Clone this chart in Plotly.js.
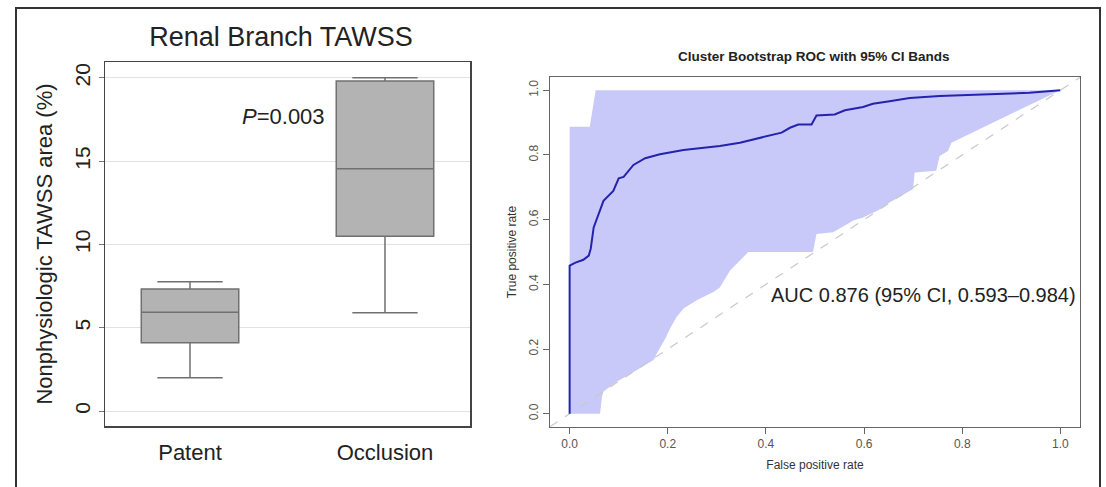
<!DOCTYPE html>
<html>
<head>
<meta charset="utf-8">
<script src="https://cdn.plot.ly/plotly-3.0.1.min.js"></script>
<style>
  html, body { margin: 0; padding: 0; background: #ffffff; }
  #chart { width: 1106px; height: 487px; }
</style>
</head>
<body>
<div id="chart"></div>
<script>
// ---------- Left panel: box plot data ----------
const categories = ['Patent', 'Occlusion'];
const lowerWhisker = [2.0, 5.9];
const q1 = [4.1, 10.5];
const median = [5.93, 14.55];
const q3 = [7.33, 19.82];
const upperWhisker = [7.77, 20.02];
const boxTicks = [0, 5, 10, 15, 20];

// ---------- Right panel: ROC data ----------
const rocFpr = [0, 0, 0.012, 0.028, 0.039, 0.043, 0.049, 0.069, 0.089, 0.1, 0.11, 0.13, 0.154, 0.184, 0.232, 0.273, 0.306, 0.347, 0.388, 0.432, 0.449, 0.466, 0.493, 0.503, 0.54, 0.561, 0.598, 0.618, 0.652, 0.693, 0.754, 0.856, 0.937, 1];
const rocTpr = [0, 0.458, 0.467, 0.476, 0.489, 0.51, 0.576, 0.658, 0.689, 0.728, 0.732, 0.769, 0.79, 0.802, 0.815, 0.822, 0.828, 0.838, 0.853, 0.869, 0.884, 0.894, 0.894, 0.922, 0.925, 0.938, 0.948, 0.958, 0.966, 0.976, 0.982, 0.987, 0.992, 1];

const ciUpperFpr = [0, 0.041, 0.053, 1];
const ciUpperTpr = [0.887, 0.887, 1.0, 1];

const ciLowerFpr = [0, 0.062, 0.066, 0.069, 0.096, 0.137, 0.171, 0.178, 0.195, 0.205, 0.218, 0.232, 0.259, 0.279, 0.293, 0.306, 0.317, 0.327, 0.344, 0.364, 0.496, 0.503, 0.537, 0.547, 0.567, 0.578, 0.598, 0.628, 0.652, 0.700, 0.703, 0.747, 0.754, 0.771, 0.778, 1];
const ciLowerTpr = [0, 0, 0.053, 0.069, 0.099, 0.135, 0.166, 0.187, 0.233, 0.264, 0.299, 0.325, 0.351, 0.366, 0.376, 0.39, 0.418, 0.443, 0.469, 0.5, 0.5, 0.556, 0.561, 0.571, 0.587, 0.597, 0.607, 0.628, 0.653, 0.695, 0.746, 0.751, 0.797, 0.812, 0.838, 1];

const chanceLine = [-0.04, 1.04];
const rocTicks = [0, 0.2, 0.4, 0.6, 0.8, 1.0];

const FONT = 'Liberation Sans, Arial, sans-serif';

// Band polygon built from the upper and lower bound arrays
const bandX = ciUpperFpr.concat(ciLowerFpr.slice().reverse());
const bandY = ciUpperTpr.concat(ciLowerTpr.slice().reverse());

const traces = [
  {
    type: 'box',
    x: categories,
    q1: q1, median: median, q3: q3,
    lowerfence: lowerWhisker, upperfence: upperWhisker,
    boxpoints: false,
    width: 0.5,
    whiskerwidth: 0.67,
    fillcolor: '#b3b3b3',
    line: { color: '#707070', width: 1.5 },
    hoverinfo: 'skip',
    showlegend: false,
    xaxis: 'x', yaxis: 'y'
  },
  {
    type: 'scatter', mode: 'lines',
    x: bandX, y: bandY,
    fill: 'toself', fillcolor: '#c9c9f9',
    line: { width: 0, color: 'rgba(0,0,0,0)' },
    hoverinfo: 'skip', showlegend: false,
    xaxis: 'x2', yaxis: 'y2'
  },
  {
    type: 'scatter', mode: 'lines',
    x: chanceLine, y: chanceLine,
    line: { color: '#c8c8c8', width: 1.2, dash: 'dash' },
    hoverinfo: 'skip', showlegend: false,
    xaxis: 'x2', yaxis: 'y2'
  },
  {
    type: 'scatter', mode: 'lines',
    x: rocFpr, y: rocTpr,
    line: { color: '#2323ad', width: 2 },
    hoverinfo: 'skip', showlegend: false,
    xaxis: 'x2', yaxis: 'y2'
  }
];

const W = 1106, H = 487;
const px = v => v / W;
const py = v => 1 - v / H;

const layout = {
  width: W, height: H,
  margin: { l: 0, r: 0, t: 0, b: 0 },
  paper_bgcolor: '#ffffff', plot_bgcolor: '#ffffff',
  font: { family: FONT, color: '#222222' },
  showlegend: false,
  title: {
    text: 'Renal Branch TAWSS',
    x: px(281), xanchor: 'center', xref: 'paper',
    y: py(37), yanchor: 'middle', yref: 'paper',
    font: { family: FONT, size: 27, color: '#222222' }
  },
  xaxis: {
    domain: [px(105), px(470)],
    type: 'category',
    range: [-0.436, 1.436],
    showgrid: false, zeroline: false,
    showline: true, mirror: true, linecolor: '#444444', linewidth: 1.5,
    ticks: '', ticklabelstandoff: 6,
    tickfont: { family: FONT, size: 22, color: '#222222' },
    fixedrange: true, automargin: false
  },
  yaxis: {
    domain: [1 - 426 / H, 1 - 62 / H],
    range: [-0.9, 20.96],
    tickvals: boxTicks,
    ticktext: boxTicks.map(String),
    tickangle: -90,
    ticks: 'outside', ticklen: 5, tickcolor: '#777777',
    showgrid: true, gridcolor: '#e2e2e2', gridwidth: 1,
    zeroline: false,
    showline: true, mirror: true, linecolor: '#444444', linewidth: 1.5,
    tickfont: { family: FONT, size: 21, color: '#222222' },
    title: { text: 'Nonphysiologic TAWSS area (%)', standoff: 12,
             font: { family: FONT, size: 22, color: '#222222' } },
    fixedrange: true, automargin: false
  },
  xaxis2: {
    domain: [px(550), px(1080)],
    anchor: 'y2',
    range: [-0.04, 1.04],
    tickvals: rocTicks,
    ticktext: rocTicks.map(v => v.toFixed(1)),
    ticks: 'outside', ticklen: 6, tickcolor: '#666666',
    showgrid: false, zeroline: false,
    showline: true, mirror: true, linecolor: '#666666', linewidth: 1.2,
    tickfont: { family: FONT, size: 12, color: '#555555' },
    title: { text: 'False positive rate', standoff: 10,
             font: { family: FONT, size: 12, color: '#333333' } },
    fixedrange: true, automargin: false
  },
  yaxis2: {
    domain: [1 - 426.7 / H, 1 - 77.3 / H],
    anchor: 'x2',
    range: [-0.04, 1.04],
    tickvals: rocTicks,
    ticktext: rocTicks.map(v => v.toFixed(1)),
    tickangle: -90,
    ticks: 'outside', ticklen: 6, tickcolor: '#666666',
    showgrid: false, zeroline: false,
    showline: true, mirror: true, linecolor: '#666666', linewidth: 1.2,
    tickfont: { family: FONT, size: 12, color: '#555555' },
    title: { text: 'True positive rate', standoff: 7,
             font: { family: FONT, size: 12, color: '#333333' } },
    fixedrange: true, automargin: false
  },
  annotations: [
    {
      text: '<i>P</i>=0.003',
      xref: 'paper', yref: 'paper',
      x: px(283), y: py(117), xanchor: 'center', yanchor: 'middle',
      showarrow: false,
      font: { family: FONT, size: 22, color: '#222222' }
    },
    {
      text: '<b>Cluster Bootstrap ROC with 95% CI Bands</b>',
      xref: 'paper', yref: 'paper',
      x: px(814), y: py(56), xanchor: 'center', yanchor: 'middle',
      showarrow: false,
      font: { family: FONT, size: 13.5, color: '#222222' }
    },
    {
      text: 'AUC 0.876 (95% CI, 0.593–0.984)',
      xref: 'paper', yref: 'paper',
      x: px(1078), y: py(295), xanchor: 'right', yanchor: 'middle',
      showarrow: false,
      font: { family: FONT, size: 20, color: '#222222' }
    }
  ],
  shapes: [
    {
      type: 'rect', xref: 'paper', yref: 'paper',
      x0: px(16), x1: px(1100), y0: -0.05, y1: py(8),
      line: { color: '#333333', width: 2 },
      fillcolor: 'rgba(0,0,0,0)', layer: 'above'
    }
  ]
};

Plotly.newPlot('chart', traces, layout, { staticPlot: true, displayModeBar: false });
</script>
</body>
</html>
